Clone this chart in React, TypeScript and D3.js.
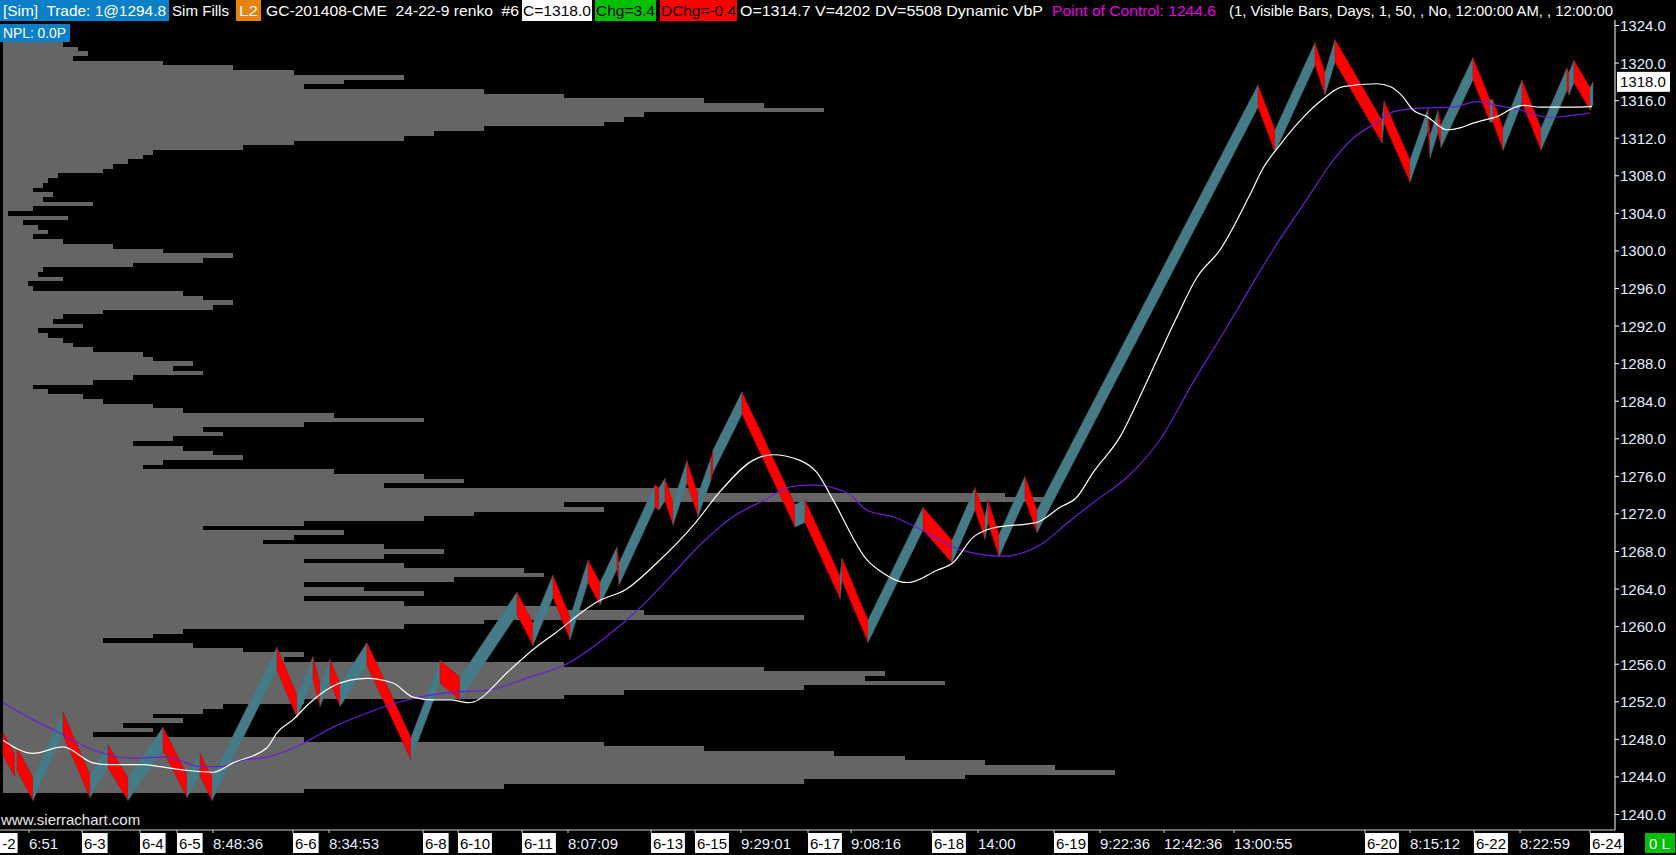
import * as d3 from "d3";

const WIDTH = 1676;
const HEIGHT = 855;
const AXIS_X = 1615;
const AXIS_Y = 830;
const FONT = "'Liberation Sans', Arial, sans-serif";

const TEAL = "#447b86";
const RED = "#ff0000";
const PROFILE_GRAY = "#656565";
const AXIS_TEXT = "#e6eeff";

// renko box size (24 ticks of 0.1)
const BOX_SIZE = 2.4;
const LAST_PRICE = 1318.0;

const PRICE_TICKS = [
  1240, 1244, 1248, 1252, 1256, 1260, 1264, 1268, 1272, 1276, 1280, 1284,
  1288, 1292, 1296, 1300, 1304, 1308, 1312, 1316, 1320, 1324,
];

// swing points of the renko bricks: bar number and price
const PIVOT_BARS = [
  3, 15, 17, 33, 63, 90, 108, 128, 163, 187, 200, 212, 277, 297, 313, 320,
  330, 340, 367, 411, 440, 460, 517, 533, 553, 570, 588, 600, 617, 619, 655,
  659, 665, 673, 687, 698, 711, 713, 742, 795, 805, 840, 842, 868, 923, 952,
  975, 985, 988, 999, 1025, 1037, 1258, 1275, 1315, 1325, 1335, 1382, 1384,
  1410, 1428, 1430, 1438, 1441, 1473, 1490, 1493, 1503, 1522, 1541, 1567,
  1569, 1574, 1590, 1593,
];
const PIVOT_PRICES = [
  1248.7, 1244.0, 1247.1, 1241.5, 1250.9, 1241.8, 1247.4, 1241.5, 1249.3,
  1241.8, 1246.5, 1241.5, 1257.8, 1250.3, 1256.8, 1251.5, 1256.5, 1251.5,
  1258.3, 1245.8, 1256.4, 1252.2, 1263.7, 1258.0, 1265.5, 1258.6, 1267.1,
  1262.3, 1268.5, 1264.4, 1275.1, 1272.4, 1275.8, 1270.8, 1277.7, 1271.7,
  1278.0, 1276.4, 1285.0, 1270.6, 1273.5, 1263.0, 1267.3, 1258.3, 1272.7,
  1266.8, 1274.8, 1269.3, 1273.5, 1267.4, 1276.0, 1270.0, 1317.7, 1310.5,
  1322.2, 1316.6, 1322.5, 1311.5, 1316.0, 1307.3, 1315.2, 1309.9, 1315.0,
  1311.0, 1320.6, 1313.7, 1316.1, 1310.7, 1318.2, 1310.7, 1319.5, 1316.6,
  1320.3, 1315.0, 1318.0,
];

// volume by price, 0.5 steps from the top level downwards
const PROFILE_TOP = 1322.0;
const PROFILE_STEP = 0.5;
const PROFILE_VOLUME = [
  60, 75, 85, 70, 160, 230, 290, 400, 340, 300,
  480, 560, 700, 760, 820, 640, 620, 600, 480, 430,
  400, 290, 240, 150, 140, 125, 110, 100, 55, 45,
  40, 30, 50, 40, 90, 30, 5, 65, 20, 35,
  45, 30, 60, 110, 160, 230, 200, 130, 40, 35,
  60, 25, 30, 180, 200, 230, 210, 100, 60, 50,
  80, 35, 45, 60, 70, 90, 140, 150, 190, 170,
  200, 130, 90, 30, 45, 80, 100, 150, 180, 330,
  420, 300, 200, 220, 170, 130, 180, 210, 240, 160,
  140, 330, 420, 460, 380, 700, 1000, 1040, 560, 600,
  470, 420, 300, 200, 340, 290, 260, 380, 440, 380,
  300, 400, 520, 540, 450, 300, 360, 420, 300, 400,
  560, 640, 800, 480, 400, 180, 150, 100, 190, 240,
  300, 280, 560, 760, 880, 860, 940, 800, 620, 560,
  300, 220, 200, 150, 180, 120, 150, 90, 300, 600,
  700, 830, 900, 980, 1050, 1110, 960, 800, 500, 300,
];

// moving averages
const MA_FAST_BARS = [
  3, 33, 63, 93, 110, 143, 160, 187, 213, 233, 267, 277, 293, 310, 330, 350,
  367, 393, 413, 433, 450, 469, 510, 529, 555, 600, 625, 657, 695, 721, 753,
  773, 800, 817, 833, 867, 883, 900, 908, 937, 953, 973, 993, 1037, 1060,
  1077, 1093, 1120, 1143, 1177, 1197, 1220, 1250, 1263, 1280, 1303, 1320,
  1343, 1377, 1390, 1403, 1413, 1427, 1447, 1460, 1473, 1483, 1497, 1513,
  1523, 1540, 1570, 1592,
];
const MA_FAST_VALUES = [
  1247.9, 1246.5, 1247.2, 1245.5, 1245.3, 1245.3, 1245.1, 1244.7, 1244.5,
  1245.5, 1247.1, 1248.7, 1250.1, 1251.9, 1253.5, 1254.3, 1254.5, 1254.0,
  1252.5, 1252.2, 1252.2, 1251.9, 1255.4, 1257.2, 1259.3, 1262.8, 1263.9,
  1266.8, 1271.0, 1274.5, 1277.7, 1278.3, 1277.7, 1276.4, 1273.5, 1267.1,
  1265.7, 1264.8, 1264.7, 1266.0, 1266.8, 1269.5, 1270.5, 1271.1, 1272.7,
  1273.8, 1276.4, 1280.2, 1285.2, 1293.0, 1297.2, 1300.1, 1306.0, 1308.8,
  1311.3, 1314.2, 1315.9, 1317.5, 1317.8, 1317.5, 1316.4, 1315.0, 1314.3,
  1312.9, 1313.1, 1313.6, 1313.9, 1314.3, 1315.2, 1315.5, 1315.3, 1315.3,
  1315.4,
];
const MA_SLOW_BARS = [
  3, 33, 63, 93, 133, 167, 200, 220, 243, 267, 300, 333, 367, 400, 450, 485,
  529, 568, 606, 638, 670, 702, 733, 765, 791, 813, 848, 867, 893, 927, 960,
  1003, 1043, 1067, 1093, 1127, 1160, 1193, 1227, 1253, 1273, 1310, 1330,
  1353, 1377, 1393, 1420, 1453, 1477, 1497, 1520, 1550, 1570, 1590,
];
const MA_SLOW_VALUES = [
  1251.9, 1250.1, 1248.5, 1246.9, 1246.0, 1246.1, 1245.1, 1245.1, 1245.8,
  1246.1, 1247.4, 1249.3, 1250.8, 1252.0, 1253.0, 1253.2, 1254.6, 1256.1,
  1258.9, 1261.8, 1265.3, 1268.9, 1271.7, 1273.5, 1274.9, 1275.1, 1274.2,
  1272.4, 1271.7, 1270.0, 1268.2, 1267.5, 1268.9, 1271.0, 1273.2, 1275.9,
  1279.9, 1286.0, 1291.9, 1296.6, 1300.1, 1306.0, 1309.2, 1312.0, 1313.7,
  1314.8, 1315.2, 1315.3, 1315.9, 1315.5, 1315.0, 1314.2, 1314.4, 1314.7,
];

// time axis labels (dates get a white box)
const TIME_LABELS = [
  "6-2", "6:51", "6-3", "6-4", "6-5", "8:48:36", "6-6", "8:34:53", "6-8",
  "6-10", "6-11", "8:07:09", "6-13", "6-15", "9:29:01", "6-17", "9:08:16",
  "6-18", "14:00", "6-19", "9:22:36", "12:42:36", "13:00:55", "6-20",
  "8:15:12", "6-22", "8:22:59", "6-24",
];
const TIME_LABEL_BARS = [
  -8, 29, 82, 140, 177, 213, 293, 329, 423, 458, 522, 568, 651, 695, 741,
  808, 851, 932, 978, 1054, 1100, 1164, 1234, 1365, 1410, 1474, 1520, 1590,
];

const HEADER = [
  { text: "[Sim]  Trade: 1@1294.8", x: 3, w: 163, box: [0, 169], bg: "#0b7fc7", fg: "#ffffff" },
  { text: "Sim Fills", x: 172, w: 57, fg: "#ffffff" },
  { text: "L2", x: 239, w: 19, box: [236, 261], bg: "#e8820e", fg: "#ffffff" },
  { text: "GC-201408-CME  24-22-9 renko  #6", x: 266, w: 253, fg: "#ffffff" },
  { text: "C=1318.0", x: 523, w: 68, box: [522, 592], bg: "#ffffff", fg: "#000000" },
  { text: "Chg=3.4", x: 596, w: 59, box: [595, 656], bg: "#00c000", fg: "#000000" },
  { text: "DChg=-0.4", x: 661, w: 75, box: [660, 737], bg: "#ff0000", fg: "#000000" },
  { text: "O=1314.7 V=4202 DV=5508 Dynamic VbP", x: 740, w: 303, fg: "#ffffff" },
  { text: "Point of Control: 1244.6", x: 1052, w: 164, fg: "#e600e6" },
  { text: "(1, Visible Bars, Days, 1, 50, , No, 12:00:00 AM, , 12:00:00", x: 1229, w: 384, fg: "#ffffff" },
];

export default function App() {
  const y = d3.scaleLinear().domain([1240, 1324]).range([814.5, 25.5]);
  const x = d3.scaleLinear().domain([0, 1612]).range([0, 1612]);
  const vol = d3.scaleLinear().domain([0, 1110]).range([3, 1115]);

  // profile outline as one stepped shape (no seams between rows)
  const profilePts: [number, number][] = [[3, y(PROFILE_TOP + PROFILE_STEP / 2)]];
  PROFILE_VOLUME.forEach((v, i) => {
    const price = PROFILE_TOP - i * PROFILE_STEP;
    profilePts.push([vol(v), y(price + PROFILE_STEP / 2)]);
    profilePts.push([vol(v), y(price - PROFILE_STEP / 2)]);
  });
  profilePts.push([3, y(PROFILE_TOP - (PROFILE_VOLUME.length - 0.5) * PROFILE_STEP)]);
  const profilePath = d3.line()(profilePts) + "Z";

  const legs = PIVOT_BARS.slice(1).map((b1, i) => {
    const b0 = PIVOT_BARS[i];
    const p0 = PIVOT_PRICES[i];
    const p1 = PIVOT_PRICES[i + 1];
    const up = p1 > p0;
    const x0 = x(b0);
    const x1 = Math.max(x(b1), x0 + 1.5);
    const pts = up
      ? [[x0, y(p0)], [x0, y(p0 + BOX_SIZE)], [x1, y(p1)], [x1, y(p1 - BOX_SIZE)]]
      : [[x0, y(p0)], [x1, y(p1 + BOX_SIZE)], [x1, y(p1)], [x0, y(p0 - BOX_SIZE)]];
    return { up, d: "M" + pts.map((p) => p.join(",")).join("L") + "Z" };
  });

  const maLine = d3
    .line<number>()
    .x((b) => x(b))
    .curve(d3.curveMonotoneX);
  const fastPath = maLine.y((_, i) => y(MA_FAST_VALUES[i]))(MA_FAST_BARS);
  const slowPath = maLine.y((_, i) => y(MA_SLOW_VALUES[i]))(MA_SLOW_BARS);

  return (
    <svg
      width={WIDTH}
      height={HEIGHT}
      style={{ position: "absolute", left: 0, top: 0, background: "#000" }}
      fontFamily={FONT}
    >
      <rect width={WIDTH} height={HEIGHT} fill="#000" />

      {/* volume by price */}
      <path d={profilePath} fill={PROFILE_GRAY} shapeRendering="crispEdges" />

      {/* renko bricks */}
      <g>
        {legs.map((l, i) => (
          <path
            key={i}
            d={l.d}
            fill={l.up ? TEAL : RED}
            stroke={l.up ? "#3d6f78" : "#b00000"}
            strokeWidth={0.8}
            strokeDasharray="1 1"
          />
        ))}
      </g>

      {/* moving averages */}
      <path d={slowPath ?? ""} fill="none" stroke="#6a1fd8" strokeWidth={1.2} />
      <path d={fastPath ?? ""} fill="none" stroke="#ffffff" strokeWidth={1.2} />

      {/* price axis */}
      <line x1={AXIS_X} x2={AXIS_X} y1={20} y2={AXIS_Y} stroke="#ffffff" strokeWidth={1} />
      {PRICE_TICKS.map((t) => (
        <g key={t}>
          <line x1={AXIS_X} x2={AXIS_X + 4} y1={y(t)} y2={y(t)} stroke="#ffffff" />
          <text x={AXIS_X + 5} y={y(t) + 5.5} fontSize={15} fill={AXIS_TEXT}>
            {t.toFixed(1)}
          </text>
        </g>
      ))}
      <rect x={AXIS_X + 2} y={y(LAST_PRICE) - 10} width={53} height={20} fill="#ffffff" />
      <text x={AXIS_X + 5} y={y(LAST_PRICE) + 5.5} fontSize={15} fill="#000000">
        {LAST_PRICE.toFixed(1)}
      </text>

      {/* time axis */}
      <line x1={0} x2={AXIS_X} y1={AXIS_Y} y2={AXIS_Y} stroke="#d0d0d0" />
      {TIME_LABELS.map((label, i) => {
        const lx = x(TIME_LABEL_BARS[i]);
        const isDate = /^\d+-\d+$/.test(label);
        const tw = label.length * 8.3 - (label.match(/[-:]/g) || []).length * 3.3;
        const shown = i === 0 ? label.slice(1) : label;
        const tx = i === 0 ? lx + 10.3 : lx + (isDate ? 2 : 0);
        return (
          <g key={i}>
            <line x1={lx} x2={lx} y1={AXIS_Y} y2={AXIS_Y + 3} stroke="#d0d0d0" />
            {isDate && (
              <rect x={lx} y={833} width={tw + 4} height={20} fill="#ffffff" />
            )}
            <text x={tx} y={849} fontSize={15} fill={isDate ? "#000000" : AXIS_TEXT}>
              {shown}
            </text>
          </g>
        );
      })}
      <rect x={1645} y={833} width={30} height={20} fill="#00c000" />
      <text x={1649} y={849} fontSize={15} fill="#ffffff" style={{ whiteSpace: "pre" }}>
        0 L
      </text>

      <text x={1} y={825} fontSize={15} fill="#e8e8e8">
        www.sierrachart.com
      </text>

      {/* header */}
      {HEADER.map((h, i) => (
        <g key={i}>
          {h.box && (
            <rect x={h.box[0]} y={0} width={h.box[1] - h.box[0]} height={21} fill={h.bg} />
          )}
          <text
            x={h.x}
            y={16}
            fontSize={15}
            fill={h.fg}
            textLength={h.w}
            lengthAdjust="spacingAndGlyphs"
            style={{ whiteSpace: "pre" }}
          >
            {h.text}
          </text>
        </g>
      ))}
      <rect x={0} y={24} width={70} height={18} fill="#0b7fc7" />
      <text x={3} y={38} fontSize={15} fill="#ffffff" textLength={63} lengthAdjust="spacingAndGlyphs">
        NPL: 0.0P
      </text>
    </svg>
  );
}
